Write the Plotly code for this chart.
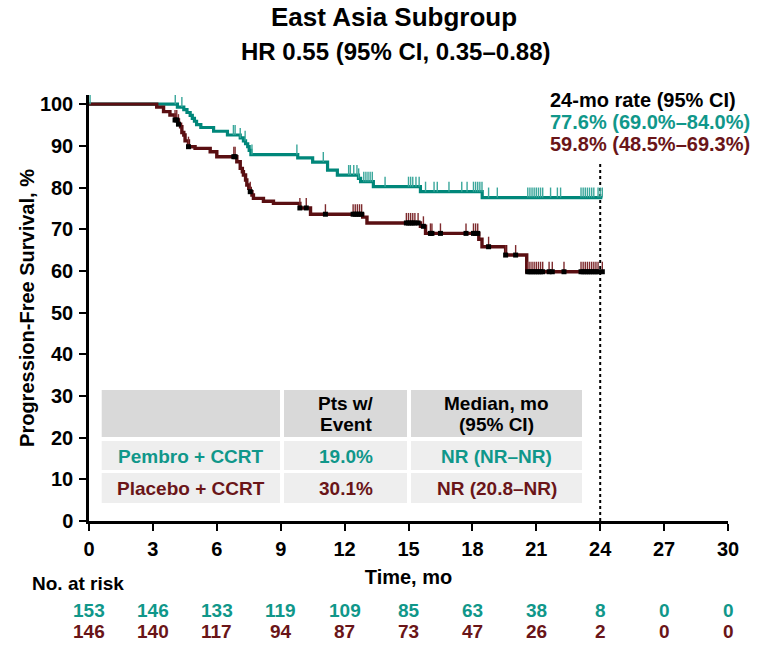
import plotly.graph_objects as go

# ---------------- data ----------------
pembro_t = [0, 4.15, 4.45, 4.6, 4.75, 4.85, 4.95, 5.05, 5.25, 5.85, 6.5, 7.1, 7.25, 7.35, 7.45,
            7.52, 7.6, 9.8, 10.5, 11.2, 11.66, 12.65, 12.75, 13.35, 15.56, 18.46, 24.1]
pembro_s = [100, 99.3, 98.7, 98.0, 97.3, 96.6, 95.9, 95.1, 94.4, 93.5, 92.6, 91.9, 91.2, 90.5, 89.8,
            88.9, 87.9, 87.1, 86.1, 84.2, 83.0, 82.2, 81.4, 80.2, 79.0, 77.6, 77.6]

placebo_t = [0, 3.18, 3.5, 3.8, 4.04, 4.2, 4.3, 4.36, 4.45, 4.51, 4.67, 4.98, 5.69, 6.0, 6.94,
             7.1, 7.2, 7.25, 7.35, 7.41, 7.5, 7.57, 7.65, 7.72, 8.19, 8.66, 9.9, 10.4, 12.85, 13.05,
             15.56, 15.8, 18.3, 18.45, 19.56, 20.55, 24.1]
placebo_s = [100, 99.3, 98.2, 97.4, 96.2, 95.2, 94.6, 93.2, 92.6, 91.2, 89.8, 89.4, 88.6, 87.4, 86.2,
             84.6, 83.8, 83.0, 81.8, 80.6, 79.8, 79.0, 78.2, 77.4, 76.7, 76.2, 75.1, 73.6, 72.9, 71.5,
             70.7, 69.0, 67.6, 65.8, 63.8, 59.8, 59.8]

pembro_censor = [0.05, 4.05, 4.36, 6.78, 6.86, 7.1, 7.33, 7.65, 9.76, 11.0, 12.19, 12.27, 12.43, 12.58,
                 12.66, 12.9, 13.0, 13.1, 13.2, 13.3, 13.9, 15.0, 15.1, 15.2, 15.35, 15.5, 15.8, 16.2,
                 16.35, 16.9, 17.5, 17.75, 18.05, 18.15, 18.25, 18.35, 18.45, 18.76, 19.17, 20.6,
                 20.7, 20.8, 20.9, 21.0, 21.1, 21.2, 21.3, 21.67, 21.99, 22.14, 23.1, 23.2, 23.3,
                 23.4, 23.5, 23.6, 23.7, 23.9, 24.0, 24.1]
placebo_censor = [4.04, 4.12, 4.2, 4.67, 6.8, 6.86, 7.57, 9.9, 10.2, 11.1, 12.4, 12.5, 12.6, 12.7,
                  12.8, 14.9, 15.0, 15.1, 15.2, 15.3, 15.45, 15.7, 16.03, 16.1, 16.5, 17.7, 18.05,
                  18.15, 18.25, 18.76, 19.56, 20.03, 20.6, 20.7, 20.8, 20.9, 21.0, 21.1, 21.2, 21.3,
                  21.6, 21.75, 22.3, 23.1, 23.2, 23.3, 23.4, 23.5, 23.6, 23.7, 23.8, 23.9, 24.1]

risk_times = [0, 3, 6, 9, 12, 15, 18, 21, 24, 27, 30]
pembro_risk = [153, 146, 133, 119, 109, 85, 63, 38, 8, 0, 0]
placebo_risk = [146, 140, 117, 94, 87, 73, 47, 26, 2, 0, 0]

landmark = 24
arm_labels = ["Pembro + CCRT", "Placebo + CCRT"]
events_pct = ["19.0%", "30.1%"]
medians = ["NR (NR–NR)", "NR (20.8–NR)"]
rates = ["77.6% (69.0%–84.0%)", "59.8% (48.5%–69.3%)"]
header_events = ["Pts w/", "Event"]
header_median = ["Median, mo", "(95% CI)"]

# ---------------- styles ----------------
TEAL = "#00877a"
TEAL_TXT = "#10978a"
TEAL_TICK = "#3aa79b"
MAROON = "#5a0f12"
MAROON_TXT = "#6a1518"
MAROON_TICK = "#7e2b2e"
FONT = "Liberation Sans, Arial, sans-serif"

L, R, T, B = 89, 29, 95, 126
W, H = 757, 647
PW, PH = W - L - R, H - T - B


def px(x):
    return (x - L) / PW


def py(y):
    return (H - B - y) / PH


def surv_at(ts, ss, t):
    val = ss[0]
    for ti, si in zip(ts, ss):
        if ti <= t:
            val = si
    return val


fig = go.Figure()

# curves
fig.add_trace(go.Scatter(x=pembro_t, y=pembro_s, mode="lines", line=dict(color=TEAL, width=3.2, shape="hv"),
                         showlegend=False, hoverinfo="skip"))
fig.add_trace(go.Scatter(x=placebo_t, y=placebo_s, mode="lines", line=dict(color=MAROON, width=3.4, shape="hv"),
                         showlegend=False, hoverinfo="skip"))

# censor ticks (upward ticks via one-sided error bars)
fig.add_trace(go.Scatter(
    x=pembro_censor, y=[surv_at(pembro_t, pembro_s, t) for t in pembro_censor], mode="markers",
    marker=dict(size=1, color="rgba(0,0,0,0)"),
    error_y=dict(type="constant", value=2.4, symmetric=False, valueminus=0, width=0, thickness=1.4,
                 color=TEAL_TICK),
    showlegend=False, hoverinfo="skip"))
fig.add_trace(go.Scatter(
    x=placebo_censor, y=[surv_at(placebo_t, placebo_s, t) for t in placebo_censor], mode="markers",
    marker=dict(size=5, symbol="square", color="black"),
    error_y=dict(type="constant", value=2.4, symmetric=False, valueminus=0, width=0, thickness=1.4,
                 color=MAROON_TICK),
    showlegend=False, hoverinfo="skip"))

shapes = []
# landmark dotted line
shapes.append(dict(type="line", xref="x", yref="y", x0=landmark, x1=landmark, y0=0, y1=86,
                   line=dict(color="black", width=2, dash="dot"), layer="below"))

# table cells
cols = [(101.7, 280), (284, 407), (411, 582)]
rows = [(390, 437, "#d9d9d9"), (441, 470, "#eeeeee"), (473, 503, "#eeeeee")]
for (y0, y1, c) in rows:
    for (x0, x1) in cols:
        shapes.append(dict(type="rect", xref="paper", yref="paper", x0=px(x0), x1=px(x1),
                           y0=py(y1), y1=py(y0), fillcolor=c, line=dict(width=0), layer="below"))

ann = []


def text(x, y, s, size, color="black", xanchor="center", xref="paper", yanchor="middle"):
    ann.append(dict(x=x, y=y, xref=xref, yref="paper", text=s, showarrow=False, xanchor=xanchor,
                    yanchor=yanchor, font=dict(family=FONT, size=size, color=color, weight="bold")))


# table text
ccx = [(a + b) / 2 for a, b in cols]
for j, hy in enumerate([404, 424]):
    text(px(ccx[1]), py(hy), header_events[j], 19)
    text(px(ccx[2]), py(hy), header_median[j], 19)
row_cy = [456, 488]
row_col = [TEAL_TXT, MAROON_TXT]
for i in range(2):
    text(px(ccx[0]), py(row_cy[i]), arm_labels[i], 19, row_col[i])
    text(px(ccx[1]), py(row_cy[i]), events_pct[i], 19, row_col[i])
    text(px(ccx[2]), py(row_cy[i]), medians[i], 19, row_col[i])

# landmark rates
text(px(548), py(100), f"{landmark}-mo rate (95% CI)", 20, "black", xanchor="left")
text(px(548), py(122), rates[0], 20, TEAL_TXT, xanchor="left")
text(px(548), py(144), rates[1], 20, MAROON_TXT, xanchor="left")

# number at risk
text(px(30), py(583), "No. at risk", 19, "black", xanchor="left")
for t, n1, n2 in zip(risk_times, pembro_risk, placebo_risk):
    text(t, py(610), str(n1), 19, TEAL_TXT, xref="x")
    text(t, py(631), str(n2), 19, MAROON_TXT, xref="x")

# titles
text(px(394), py(17), "East Asia Subgroup", 26)
text(px(396), py(51), "HR 0.55 (95% CI, 0.35–0.88)", 24)

fig.update_layout(
    width=W, height=H, margin=dict(l=L, r=R, t=T, b=B, pad=0),
    paper_bgcolor="white", plot_bgcolor="white",
    shapes=shapes, annotations=ann, showlegend=False,
    font=dict(family=FONT, color="black"),
)
fig.update_xaxes(range=[0, 30], tickvals=risk_times, showgrid=False, zeroline=False,
                 showline=True, linecolor="black", linewidth=2.5, ticks="outside", ticklen=7,
                 tickwidth=2.2, tickcolor="black", ticklabelstandoff=1,
                 tickfont=dict(family=FONT, size=20, color="black", weight="bold"),
                 title=dict(text="Time, mo", standoff=12,
                            font=dict(family=FONT, size=20, color="black", weight="bold")))
fig.update_yaxes(range=[0, 102.2], tickvals=list(range(0, 101, 10)), showgrid=False, zeroline=False,
                 showline=True, linecolor="black", linewidth=2.5, ticks="outside", ticklen=7,
                 tickwidth=2.2, tickcolor="black", ticklabelstandoff=2,
                 tickfont=dict(family=FONT, size=20, color="black", weight="bold"),
                 title=dict(text="Progression-Free Survival, %", standoff=0,
                            font=dict(family=FONT, size=20, color="black", weight="bold")))

fig.write_html("out.html", post_script="document.body.style.margin='0';",
               config={"displayModeBar": False})
